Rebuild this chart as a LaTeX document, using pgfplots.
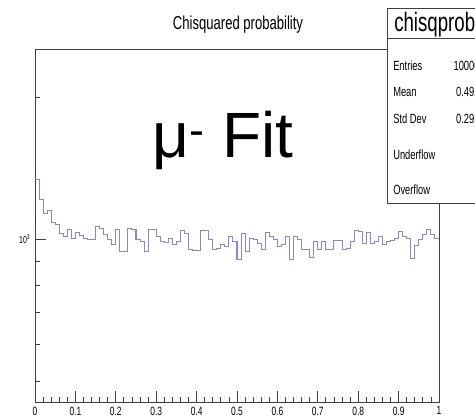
\documentclass[border=0pt]{standalone}
\usepackage{fontspec}
\setmainfont{Liberation Sans}[FakeStretch=0.7]
\newfontfamily\widefont{Liberation Sans}
\usepackage{pgfplots}
\pgfplotsset{compat=1.18}

\definecolor{histblue}{rgb}{0.52,0.52,0.9}
\definecolor{framegray}{rgb}{0.25,0.25,0.25}

\begin{document}
\begin{tikzpicture}
    % page = 475x420 px at 0.75pt/px, axis box lower left at the origin
    \useasboundingbox (-26.25pt,-13.5pt) rectangle (330pt,301.5pt);
    \clip (-26.25pt,-13.5pt) rectangle (330pt,301.5pt);

    \begin{axis}[
            at={(0pt,0pt)}, anchor=south west,
            scale only axis,
            width=303pt, height=264.75pt,
            xmin=0, xmax=1,
            ymode=log, ymin=453, ymax=2527,
            axis line style={framegray, line width=0.7pt},
            tick align=inside,
            xtick pos=left, ytick pos=left,
            xtick={0,0.1,0.2,0.3,0.4,0.5,0.6,0.7,0.8,0.9,1},
            xticklabels={0,0.1,0.2,0.3,0.4,0.5,0.6,0.7,0.8,0.9,1},
            minor x tick num=4,
            ytick={1000}, yticklabels={10\textsuperscript{3}},
            minor ytick={500,600,700,800,900,2000},
            major tick length=8pt, minor tick length=3.5pt,
            tick style={framegray, line width=0.6pt},
            xticklabel style={font=\fontsize{9}{10}\selectfont},
            yticklabel style={font=\fontsize{7.5}{9}\selectfont},
        ]

        % chisqprob, 100 bins on [0,1]
        \addplot[const plot, histblue, line width=0.8pt] coordinates {
                (0.00,1337) (0.01,1216) (0.02,1135) (0.03,1151) (0.04,1085)
                (0.05,1073) (0.06,1030) (0.07,1015) (0.08,1051) (0.09,1006)
                (0.10,1034) (0.11,1018) (0.12,1006) (0.13,1000) (0.14,998)
                (0.15,1065) (0.16,1055) (0.17,1022) (0.18,998) (0.19,974)
                (0.20,1051) (0.21,943) (0.22,943) (0.23,1055) (0.24,1047)
                (0.25,998) (0.26,990) (0.27,943) (0.28,1051) (0.29,1051)
                (0.30,1015) (0.31,990) (0.32,985) (0.33,1006) (0.34,974)
                (0.35,990) (0.36,1045) (0.37,1030) (0.38,950) (0.39,948)
                (0.40,948) (0.41,1042) (0.42,1042) (0.43,998) (0.44,953)
                (0.45,957) (0.46,974) (0.47,966) (0.48,1015) (0.49,990)
                (0.50,905) (0.51,1030) (0.52,943) (0.53,1006) (0.54,998)
                (0.55,982) (0.56,950) (0.57,1034) (0.58,1015) (0.59,998)
                (0.60,966) (0.61,974) (0.62,1015) (0.63,905) (0.64,1015)
                (0.65,998) (0.66,950) (0.67,950) (0.68,914) (0.69,990)
                (0.70,950) (0.71,990) (0.72,953) (0.73,950) (0.74,994)
                (0.75,994) (0.76,950) (0.77,957) (0.78,990) (0.79,1045)
                (0.80,1039) (0.81,978) (0.82,1034) (0.83,978) (0.84,990)
                (0.85,1015) (0.86,974) (0.87,990) (0.88,994) (0.89,1006)
                (0.90,1039) (0.91,1015) (0.92,1006) (0.93,912) (0.94,970)
                (0.95,998) (0.96,1022) (0.97,1051) (0.98,1022) (0.99,1006)
                (1.00,1006)
            };
    \end{axis}

    % decorations in image pixel coordinates (x right, y down)
    \begin{scope}[x=0.75pt, y=-0.75pt, xshift=-26.25pt, yshift=301.5pt]
        \node[anchor=base, inner sep=0, font=\fontsize{14}{16}\selectfont]
            at (238,29.5) {Chisquared probability};

        \node[anchor=base west, inner sep=0, font=\widefont\fontsize{48}{56}\selectfont]
            at (152,158) {μ\textsuperscript{-} Fit};

        % stats box, runs past the right edge as in the reference
        \draw[framegray, fill=white, line width=0.7pt] (387,8) rectangle (500,203);
        \draw[framegray, line width=0.7pt] (387,38) -- (500,38);
        \node[anchor=base west, inner sep=0, font=\fontsize{20}{23}\selectfont]
            at (394,31.5) {chisqprob};
        \begin{scope}[every node/.style={inner sep=0, font=\fontsize{10}{12}\selectfont}]
            \node[anchor=west] at (393,66) {Entries};
            \node[anchor=east] at (485,66) {100000};
            \node[anchor=west] at (393,92) {Mean};
            \node[anchor=east] at (485,92) {0.4923};
            \node[anchor=west] at (393,119) {Std Dev};
            \node[anchor=east] at (485,119) {0.2921};
            \node[anchor=west] at (393,155) {Underflow};
            \node[anchor=east] at (485,155) {0};
            \node[anchor=west] at (393,190) {Overflow};
            \node[anchor=east] at (485,190) {0};
        \end{scope}
    \end{scope}
\end{tikzpicture}
\end{document}
